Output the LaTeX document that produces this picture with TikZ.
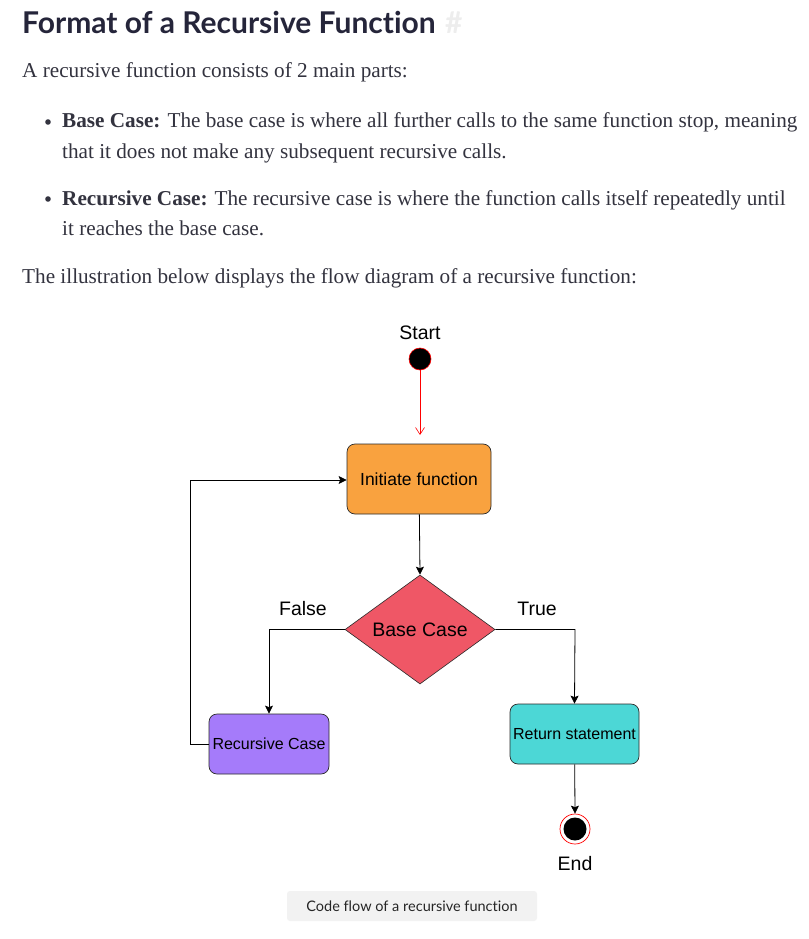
\documentclass[tikz,border=0pt]{standalone}
\usepackage{fontspec}
\setmainfont{Liberation Serif}
\setsansfont{Liberation Sans}
\newfontfamily\titlefont[Ligatures=NoCommon]{Lato}
\usetikzlibrary{shapes.geometric,arrows.meta}
\definecolor{titlecol}{HTML}{25253A}
\definecolor{bodycol}{HTML}{33333F}
\definecolor{orangefill}{HTML}{F9A23F}
\definecolor{redfill}{HTML}{EF5766}
\definecolor{purplefill}{HTML}{A57BFA}
\definecolor{cyanfill}{HTML}{4CD7D6}
\definecolor{capfill}{HTML}{F2F2F2}
\definecolor{boxline}{HTML}{2A2A2A}
\begin{document}
\begin{tikzpicture}[x=1pt,y=-1pt,
  bodytext/.style={anchor=base west,inner sep=0pt,text=bodycol,font=\fontsize{21.2}{23}\selectfont},
  boxnode/.style={draw=boxline,line width=0.7pt,rounded corners=8pt,inner sep=0pt,font=\sffamily},
  lbl/.style={inner sep=0pt,font=\sffamily\fontsize{19.5}{22}\selectfont},
  conn/.style={line width=0.8pt,-{Stealth[length=8pt,width=8pt,inset=1.5pt]}},
  plain/.style={line width=0.8pt}]
\useasboundingbox (0,0) rectangle (808,939);
\fill[white] (0,0) rectangle (808,939);
% title
\node[anchor=base west,inner sep=0pt,text=titlecol,font=\titlefont\bfseries\fontsize{30}{32}\selectfont] (title) at (22,34) {Format of a Recursive Function};
\node[anchor=base west,inner sep=0pt,text=black!7,font=\titlefont\bfseries\fontsize{30}{32}\selectfont] (hash) at ([xshift=9pt]title.base east) {\#};
% body
\node[bodytext] (intro) at (22,78) {A recursive function consists of 2 main parts:};
\fill[bodycol] (48,122) circle (2.8);
\node[bodytext] (b1a) at (62,128) {\textbf{Base Case:} The base case is where all further calls to the same function stop, meaning};
\node[bodytext] (b1b) at (62,158) {that it does not make any subsequent recursive calls.};
\fill[bodycol] (48,199) circle (2.8);
\node[bodytext] (b2a) at (62,205) {\textbf{Recursive Case:} The recursive case is where the function calls itself repeatedly until};
\node[bodytext] (b2b) at (62,235) {it reaches the base case.};
\node[bodytext] (illus) at (22,283) {The illustration below displays the flow diagram of a recursive function:};
% diagram
\node[lbl] (startlbl) at (420,333) {Start};
\node[circle,fill=black,draw=red,line width=0.6pt,minimum size=22pt,inner sep=0pt] (start) at (420,359) {};
\node[boxnode,fill=orangefill,minimum width=144pt,minimum height=70pt,font=\sffamily\fontsize{17.5}{20}\selectfont] (init) at (419,479) {Initiate function};
\node[diamond,draw=boxline,line width=0.6pt,fill=redfill,minimum width=150pt,minimum height=109pt,inner sep=0pt,aspect=1.38,font=\sffamily\fontsize{19.5}{22}\selectfont] (base) at (420,629.5) {Base Case};
\node[boxnode,fill=purplefill,minimum width=120pt,minimum height=60pt,font=\sffamily\fontsize{16}{18}\selectfont] (rec) at (269,744) {Recursive Case};
\node[boxnode,fill=cyanfill,minimum width=129pt,minimum height=60pt,font=\sffamily\fontsize{16}{18}\selectfont] (ret) at (574.5,734) {Return statement};
\node[circle,draw=red,line width=0.7pt,minimum size=30pt,inner sep=0pt] (endo) at (575,829) {};
\node[circle,fill=black,minimum size=23pt,inner sep=0pt] (endi) at (575,829) {};
\node[lbl] (endlbl) at (575,864) {End};
\node[lbl] (falselbl) at (303,609) {False};
\node[lbl] (truelbl) at (537,609) {True};
\coordinate (fcorner) at (269,629.5);
\coordinate (tcorner) at (575,629.5);
\coordinate (lbot) at (190,744);
\coordinate (ltop) at (190,480);
\coordinate (redend) at (420,435);
% connectors
\draw[red,line width=0.6pt,-{Straight Barb[length=7pt,width=9pt]}] (start) -- (redend);
\draw[conn] (init) -- (base.north);
\draw[conn] (base.west) -- (fcorner) -- (rec.north);
\draw[conn] (base.east) -- (tcorner) -- (ret.north);
\draw[conn] (ret) -- (endo.north);
\draw[conn] (rec.west) -- (lbot) -- (ltop) -- (init.west |- ltop);
% caption
\node[fill=capfill,rounded corners=3pt,minimum width=250pt,minimum height=30pt,inner sep=0pt,text=black!85,font=\titlefont\fontsize{14.5}{16}\selectfont] (cap) at (412,906) {Code flow of a recursive function};
\end{tikzpicture}
\end{document}
